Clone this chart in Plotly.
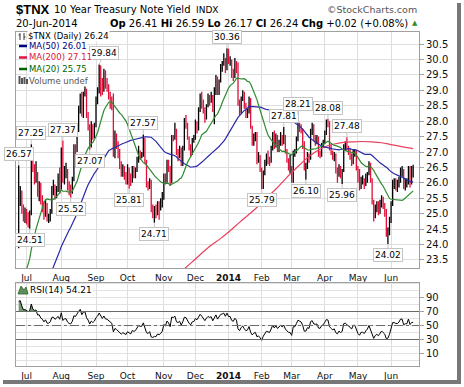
import numpy as np
import pandas as pd
import plotly.graph_objects as go

# ---------------- data ----------------
# closes of the 49 sessions before the first bar (needed for MA/RSI warm-up)
prior_closes = [16.9, 17.2, 16.9, 16.9, 17.0, 17.0, 17.1, 17.0, 17.0, 16.6, 16.7, 16.7,
                16.3, 16.3, 17.4, 17.8, 17.8, 17.6, 18.1, 19.0, 19.2, 19.6, 19.4, 18.9,
                19.5, 19.6, 19.5, 20.4, 20.3, 20.2, 21.6, 21.4, 21.2, 21.3, 21.2, 21.5,
                21.3, 21.2, 21.7, 22.2, 22.0, 22.3, 22.0, 21.9, 22.0, 22.1, 23.5, 24.2, 25.2]

opens = [24.20, 25.50, 25.70, 25.20, 24.85, 24.90, 24.80, 24.70, 25.00, 27.00, 26.45, 26.30, 26.30, 25.80, 25.85, 25.45, 25.30, 24.95, 25.30, 24.85, 24.85, 25.05, 25.80, 25.85, 25.60, 25.80, 26.10, 25.80, 27.05, 26.05,
         26.40, 26.40, 25.95, 25.75, 25.70, 26.10, 27.15, 27.05, 27.70, 28.30, 28.85, 28.20, 28.90, 29.00, 28.20, 27.85, 27.20, 27.80, 27.55, 27.85, 28.60, 28.95, 29.80, 29.35, 29.00, 29.60, 29.15, 29.10, 28.85, 28.65,
         28.50, 26.95, 27.50, 27.30, 27.00, 26.60, 26.30, 26.50, 26.20, 26.10, 26.45, 26.15, 26.05, 26.45, 26.30, 26.40, 26.70, 27.00, 26.90, 26.90, 27.30, 26.70, 26.00, 25.85, 26.05, 25.10, 25.00, 25.10, 25.05, 25.30,
         25.20, 25.30, 25.50, 26.20, 26.05, 26.65, 26.45, 26.00, 27.50, 27.45, 27.70, 27.00, 26.90, 27.10, 26.60, 27.10, 27.95, 27.90, 27.45, 27.15, 26.95, 27.40, 27.45, 27.95, 27.80, 28.35, 28.80, 28.60, 28.40, 28.10,
         28.50, 28.80, 28.70, 28.80, 28.40, 28.90, 29.35, 28.90, 29.30, 29.75, 29.85, 30.00, 29.70, 30.30, 29.95, 29.95, 29.55, 29.45, 29.90, 29.70, 28.60, 28.30, 28.70, 28.90, 28.50, 28.20, 28.30, 28.70, 27.80, 27.30,
         27.50, 27.60, 26.75, 26.85, 26.45, 25.85, 26.30, 26.70, 26.90, 26.80, 26.70, 27.10, 27.60, 27.20, 27.50, 27.10, 27.30, 27.50, 27.30, 27.50, 27.00, 26.70, 26.50, 26.50, 26.05, 27.00, 27.00, 27.40, 27.90, 27.80,
         27.70, 27.30, 26.50, 26.50, 26.90, 26.80, 27.70, 27.85, 27.45, 27.40, 27.45, 26.95, 26.90, 27.20, 27.30, 27.60, 27.95, 27.90, 27.20, 27.00, 26.80, 26.90, 26.40, 26.25, 26.50, 26.30, 26.40, 27.20, 27.25, 27.10,
         27.00, 26.85, 26.65, 27.00, 27.00, 26.50, 26.10, 25.85, 26.10, 26.10, 25.95, 26.15, 26.30, 26.60, 26.10, 25.40, 24.95, 25.20, 25.30, 25.10, 25.30, 25.50, 25.30, 25.10, 24.40, 24.45, 24.75, 25.30, 26.00, 26.00,
         25.90, 25.90, 26.05, 26.40, 26.40, 25.90, 26.00, 26.00, 26.50, 26.00, 26.41]
highs = [26.57, 25.90, 25.75, 25.30, 25.20, 25.15, 25.05, 25.10, 27.25, 27.10, 26.60, 26.70, 26.35, 26.05, 26.00, 25.60, 25.40, 25.45, 25.35, 25.00, 25.15, 25.90, 26.10, 25.95, 25.90, 26.30, 26.50, 27.15, 27.37, 26.55,
         26.65, 26.45, 26.05, 25.95, 26.20, 27.25, 27.25, 27.80, 28.50, 28.90, 28.95, 28.95, 29.30, 29.05, 28.30, 27.90, 28.00, 27.90, 27.95, 28.80, 29.10, 29.84, 29.80, 29.40, 29.70, 29.65, 29.40, 29.20, 28.95, 28.80,
         28.90, 27.70, 27.60, 27.35, 27.10, 26.70, 26.60, 26.55, 26.35, 26.60, 26.50, 26.30, 26.55, 26.55, 26.50, 26.85, 27.20, 27.05, 27.00, 27.57, 27.45, 26.75, 26.05, 26.15, 26.10, 25.30, 25.25, 25.30, 25.40, 25.40,
         25.50, 25.70, 26.30, 26.30, 26.75, 26.75, 26.55, 27.55, 27.55, 27.95, 27.75, 27.10, 27.20, 27.15, 27.20, 28.10, 28.20, 27.95, 27.50, 27.25, 27.45, 27.55, 28.05, 28.00, 28.45, 28.90, 28.95, 28.70, 28.45, 28.55,
         28.90, 28.85, 28.95, 28.85, 29.10, 29.50, 29.45, 29.35, 29.85, 29.95, 30.20, 30.05, 30.36, 30.35, 30.10, 30.00, 29.70, 30.05, 29.95, 29.90, 28.70, 28.80, 29.00, 28.95, 28.60, 28.40, 28.80, 28.75, 27.85, 27.60,
         27.65, 27.65, 27.00, 26.90, 26.50, 26.40, 26.75, 26.95, 27.05, 26.85, 27.20, 27.65, 27.70, 27.60, 27.55, 27.40, 27.65, 27.55, 27.81, 27.55, 27.10, 26.80, 26.90, 26.55, 27.05, 27.10, 27.50, 28.21, 27.95, 27.90,
         27.75, 27.35, 26.65, 27.00, 26.95, 27.75, 27.95, 27.90, 27.55, 27.55, 27.50, 27.05, 27.30, 27.40, 27.70, 28.05, 28.08, 28.00, 27.25, 27.05, 27.00, 26.95, 26.50, 26.60, 26.55, 26.45, 27.25, 27.35, 27.48, 27.20,
         27.10, 26.95, 27.10, 27.10, 27.05, 26.55, 26.45, 26.20, 26.25, 26.15, 26.30, 26.35, 26.70, 26.65, 26.15, 25.45, 25.30, 25.40, 25.40, 25.45, 25.60, 25.55, 25.35, 25.15, 24.55, 24.90, 25.40, 26.10, 26.15, 26.15,
         26.10, 26.20, 26.50, 26.55, 26.45, 26.15, 26.15, 26.55, 26.55, 26.55, 26.59]
lows = [23.88, 25.25, 25.00, 24.75, 24.70, 24.65, 24.55, 24.51, 24.95, 26.35, 25.95, 26.00, 25.55, 25.40, 25.30, 25.05, 24.80, 24.90, 24.75, 24.70, 24.75, 25.00, 25.60, 25.45, 25.50, 25.70, 25.65, 25.80, 26.00, 25.95,
        26.15, 25.75, 25.60, 25.52, 25.65, 26.05, 26.85, 27.00, 27.65, 28.25, 28.15, 28.10, 28.80, 28.10, 27.70, 27.07, 27.15, 27.40, 27.45, 27.80, 28.55, 28.90, 28.80, 28.85, 28.95, 29.05, 28.95, 28.70, 28.40, 28.35,
        26.85, 26.80, 27.10, 26.80, 26.45, 26.20, 26.20, 26.10, 25.95, 25.95, 25.81, 25.90, 26.00, 26.15, 26.15, 26.35, 26.65, 26.75, 26.80, 26.85, 26.60, 25.85, 25.75, 25.80, 25.05, 24.85, 24.71, 24.85, 24.95, 24.80,
        25.10, 25.20, 25.45, 25.95, 26.00, 26.35, 25.90, 26.00, 27.35, 27.40, 26.90, 26.70, 26.80, 26.55, 26.55, 27.05, 27.75, 27.40, 27.05, 26.85, 26.90, 27.30, 27.40, 27.60, 27.70, 28.30, 28.40, 28.25, 27.95, 28.05,
        28.45, 28.50, 28.60, 28.30, 27.90, 28.85, 28.85, 28.85, 29.25, 29.60, 29.80, 29.55, 29.65, 29.85, 29.80, 29.40, 29.30, 29.40, 29.55, 28.50, 28.20, 28.25, 28.65, 28.40, 28.10, 28.10, 28.25, 27.75, 27.20, 27.20,
        27.35, 26.60, 26.65, 26.35, 25.79, 25.80, 26.25, 26.55, 26.60, 26.55, 26.65, 27.05, 27.10, 27.15, 27.00, 27.00, 27.20, 27.20, 27.25, 26.95, 26.65, 26.40, 26.30, 26.00, 26.00, 26.85, 26.95, 27.35, 27.65, 27.60,
        27.10, 26.40, 26.10, 26.45, 26.65, 26.75, 27.55, 27.35, 27.20, 27.25, 26.85, 26.80, 26.85, 27.15, 27.25, 27.55, 27.80, 27.05, 26.90, 26.75, 26.70, 26.30, 26.00, 26.20, 26.15, 25.96, 26.35, 27.05, 27.05, 26.90,
        26.75, 26.55, 26.60, 26.85, 26.40, 26.00, 25.75, 25.80, 25.95, 25.80, 25.90, 26.00, 26.25, 26.00, 25.30, 24.75, 24.85, 25.05, 24.95, 25.00, 25.20, 25.15, 24.90, 24.25, 24.02, 24.30, 24.70, 25.25, 25.80, 25.75,
        25.70, 25.85, 26.00, 26.20, 25.80, 25.75, 25.85, 25.95, 25.85, 25.95, 26.17]
closes = [25.50, 25.75, 25.25, 24.85, 24.90, 24.80, 24.70, 24.95, 27.05, 26.45, 26.30, 26.40, 25.80, 25.85, 25.45, 25.30, 24.95, 25.30, 24.85, 24.85, 25.05, 25.80, 25.85, 25.60, 25.80, 26.10, 25.80, 27.05, 26.05, 26.40,
          26.40, 25.95, 25.75, 25.70, 26.10, 27.15, 27.05, 27.70, 28.30, 28.85, 28.20, 28.90, 29.00, 28.20, 27.85, 27.20, 27.80, 27.55, 27.85, 28.60, 28.95, 29.80, 29.35, 29.00, 29.60, 29.15, 29.10, 28.85, 28.65, 28.50,
          26.95, 27.50, 27.30, 27.00, 26.60, 26.30, 26.50, 26.20, 26.10, 26.45, 26.15, 26.05, 26.45, 26.30, 26.40, 26.70, 27.00, 26.90, 26.90, 27.30, 26.70, 26.00, 25.85, 26.05, 25.10, 25.00, 25.10, 25.05, 25.30, 25.20,
          25.30, 25.50, 26.20, 26.05, 26.65, 26.45, 26.00, 27.50, 27.45, 27.70, 27.00, 26.90, 27.10, 26.60, 27.10, 27.95, 27.90, 27.45, 27.15, 26.95, 27.40, 27.45, 27.95, 27.80, 28.35, 28.80, 28.60, 28.40, 28.10, 28.50,
          28.80, 28.70, 28.80, 28.40, 28.90, 29.35, 28.90, 29.30, 29.75, 29.85, 30.00, 29.70, 30.30, 29.95, 29.95, 29.55, 29.45, 29.90, 29.70, 28.60, 28.30, 28.70, 28.90, 28.50, 28.20, 28.30, 28.70, 27.80, 27.30, 27.50,
          27.60, 26.75, 26.85, 26.45, 25.85, 26.30, 26.70, 26.90, 26.80, 26.70, 27.10, 27.60, 27.20, 27.50, 27.10, 27.30, 27.50, 27.30, 27.50, 27.00, 26.70, 26.50, 26.50, 26.05, 27.00, 27.00, 27.40, 27.90, 27.80, 27.70,
          27.30, 26.50, 26.50, 26.90, 26.80, 27.70, 27.85, 27.45, 27.40, 27.45, 26.95, 26.90, 27.20, 27.30, 27.60, 27.95, 27.90, 27.20, 27.00, 26.80, 26.90, 26.40, 26.25, 26.50, 26.30, 26.40, 27.20, 27.25, 27.10, 27.00,
          26.85, 26.65, 27.00, 27.00, 26.50, 26.10, 25.85, 26.10, 26.10, 25.95, 26.15, 26.30, 26.60, 26.10, 25.40, 24.95, 25.20, 25.30, 25.10, 25.30, 25.50, 25.30, 25.10, 24.40, 24.45, 24.75, 25.30, 26.00, 26.00, 25.90,
          25.90, 26.05, 26.40, 26.40, 25.90, 26.00, 26.00, 26.50, 26.00, 26.22, 26.24]

# 200-day moving average (bar index, value)
ma200_idx = [104, 110, 116, 122, 128, 134, 140, 146, 152, 158, 164, 170, 176, 182, 188, 194, 200, 206, 212, 218, 224, 230, 236, 242, 250]
ma200_val = [23.17, 23.44, 23.72, 23.98, 24.20, 24.45, 24.72, 24.98, 25.25, 25.55, 25.85, 26.18, 26.48, 26.77, 27.00, 27.17, 27.26, 27.31, 27.33, 27.34, 27.33, 27.30, 27.24, 27.18, 27.11]

month_ticks = [5, 27, 49, 69, 92, 112, 133, 154, 173, 194, 215, 236]
month_labels = ["Jul", "Aug", "Sep", "Oct", "Nov", "Dec", "<b>2014</b>", "Feb", "Mar", "Apr", "May", "Jun"]
price_ticks = [23.5, 24.0, 24.5, 25.0, 25.5, 26.0, 26.5, 27.0, 27.5, 28.0, 28.5, 29.0, 29.5, 30.0, 30.5]
rsi_ticks = [10, 30, 50, 70, 90]

peak_idx = [0, 7, 8, 28, 33, 45, 51, 70, 79, 86, 132, 154, 168, 177, 182, 196, 205, 208, 234]
peak_kind = ['hi', 'lo', 'hi', 'hi', 'lo', 'lo', 'hi', 'lo', 'hi', 'lo', 'hi', 'lo', 'hi', 'hi', 'lo', 'hi', 'lo', 'hi', 'lo']

# ---------------- derived ----------------
n = len(closes)
idx = np.arange(n)
allc = np.array(prior_closes + closes, dtype=float)
npre = len(prior_closes)
s = pd.Series(allc)
ma20 = s.rolling(20).mean().values[npre:]
ma50 = s.rolling(50).mean().values[npre:]

d = np.diff(allc)
gain = np.clip(d, 0, None)
loss = np.clip(-d, 0, None)
rsi_all = np.full(len(allc), np.nan)
ag = gain[:14].mean()
al = loss[:14].mean()
rsi_all[14] = 100 - 100 / (1 + ag / al)
for k in range(14, len(d)):
    ag = (ag * 13 + gain[k]) / 14
    al = (al * 13 + loss[k]) / 14
    rsi_all[k + 1] = 100 - 100 / (1 + ag / al)
rsi = rsi_all[npre:]

prevc = allc[npre - 1:-1]
up = np.array(closes) >= prevc

# ---------------- pixel helpers ----------------
W, H = 464, 387
L, R, T, B = 16, 419, 32, 366
def PX(px):
    return (px - L) / (R - L)
def PY(py):
    return (B - py) / (B - T)

FONT = "DejaVu Sans"
RED = "#e0103a"
fig = go.Figure()

o = np.array(opens); h = np.array(highs); lo = np.array(lows); c = np.array(closes)
for mask, col in [(up, "#000000"), (~up, RED)]:
    fig.add_trace(go.Ohlc(x=idx[mask], open=o[mask], high=h[mask], low=lo[mask], close=c[mask],
                          increasing=dict(line=dict(color=col, width=1.3)),
                          decreasing=dict(line=dict(color=col, width=1.3)),
                          tickwidth=0.4, xaxis="x", yaxis="y", hoverinfo="skip"))

fig.add_trace(go.Scatter(x=ma200_idx, y=ma200_val, mode="lines", line=dict(color="#e8405e", width=1.2),
                         line_shape="spline", xaxis="x", yaxis="y", hoverinfo="skip"))
fig.add_trace(go.Scatter(x=idx, y=ma50, mode="lines", line=dict(color="#2828a8", width=1.2),
                         xaxis="x", yaxis="y", hoverinfo="skip"))
fig.add_trace(go.Scatter(x=idx, y=ma20, mode="lines", line=dict(color="#2e8b2e", width=1.2),
                         xaxis="x", yaxis="y", hoverinfo="skip"))

# RSI fills beyond 70 / 30
fig.add_trace(go.Scatter(x=idx, y=np.full(n, 70.0), mode="lines", line=dict(width=0), xaxis="x2", yaxis="y2", hoverinfo="skip"))
fig.add_trace(go.Scatter(x=idx, y=np.maximum(rsi, 70), mode="lines", line=dict(width=0), fill="tonexty",
                         fillcolor="#6f9a6f", xaxis="x2", yaxis="y2", hoverinfo="skip"))
fig.add_trace(go.Scatter(x=idx, y=np.full(n, 30.0), mode="lines", line=dict(width=0), xaxis="x2", yaxis="y2", hoverinfo="skip"))
fig.add_trace(go.Scatter(x=idx, y=np.minimum(rsi, 30), mode="lines", line=dict(width=0), fill="tonexty",
                         fillcolor="#6f9a6f", xaxis="x2", yaxis="y2", hoverinfo="skip"))
fig.add_trace(go.Scatter(x=idx, y=rsi, mode="lines", line=dict(color="#000000", width=1),
                         xaxis="x2", yaxis="y2", hoverinfo="skip"))

shapes = []
# RSI grid + reference lines
for v in range(0, 111, 10):
    shapes.append(dict(type="line", xref="paper", yref="y2", x0=0, x1=1, y0=v, y1=v,
                       line=dict(color="#e2e2e2", width=1), layer="below"))
for v in (70, 30):
    shapes.append(dict(type="line", xref="paper", yref="y2", x0=0, x1=1, y0=v, y1=v,
                       line=dict(color="#6a6a6a", width=1.2)))
shapes.append(dict(type="line", xref="paper", yref="y2", x0=0, x1=1, y0=50, y1=50,
                   line=dict(color="#6a6a6a", width=1, dash="dashdot")))
# drop shadow of the frame
shapes.append(dict(type="rect", xref="paper", yref="paper", x0=PX(457), x1=PX(461), y0=PY(384), y1=PY(3),
                   fillcolor="#777777", line=dict(width=0)))
shapes.append(dict(type="rect", xref="paper", yref="paper", x0=PX(3), x1=PX(461), y0=PY(384), y1=PY(380),
                   fillcolor="#777777", line=dict(width=0)))
# legend icons
for yy, col in [(46, "#000080"), (57.5, "#dc143c"), (69, "#006400")]:
    shapes.append(dict(type="line", xref="paper", yref="paper", x0=PX(19), x1=PX(27), y0=PY(yy), y1=PY(yy),
                       line=dict(color=col, width=2.5)))
# $TNX bar icon
for bx in (20, 24):
    shapes.append(dict(type="line", xref="paper", yref="paper", x0=PX(bx), x1=PX(bx), y0=PY(40), y1=PY(33),
                       line=dict(color="#333333", width=1)))
shapes.append(dict(type="line", xref="paper", yref="paper", x0=PX(18.5), x1=PX(20), y0=PY(35), y1=PY(35), line=dict(color="#333", width=1)))
shapes.append(dict(type="line", xref="paper", yref="paper", x0=PX(24), x1=PX(25.5), y0=PY(37), y1=PY(37), line=dict(color="#333", width=1)))
# volume icon
for bx, top in [(19.5, 76), (22, 78), (24.5, 77), (27, 79)]:
    shapes.append(dict(type="rect", xref="paper", yref="paper", x0=PX(bx - 1), x1=PX(bx + 1), y0=PY(84), y1=PY(top),
                       fillcolor="#555555", line=dict(width=0)))
# RSI icon (mountain)
shapes.append(dict(type="path", xref="paper", yref="paper",
                   path=f"M {PX(18)},{PY(294)} L {PX(21)},{PY(286)} L {PX(24)},{PY(290)} L {PX(26)},{PY(287)} L {PX(28)},{PY(294)} Z",
                   fillcolor="#5a8f5a", line=dict(color="#2f5f2f", width=0.8)))

ann = []
# peak labels
for i, kind in zip(peak_idx, peak_kind):
    v = highs[i] if kind == 'hi' else lows[i]
    ax = 5 if i == 51 else 0
    ann.append(dict(x=i, y=v, xref="x", yref="y", text=f"{v:.2f}", showarrow=True, ax=ax,
                    ay=-11 if kind == 'hi' else 11, arrowhead=0, arrowwidth=1, arrowcolor="#c4c4c4",
                    bgcolor="white", bordercolor="#c4c4c4", borderwidth=1, borderpad=1,
                    font=dict(family=FONT, size=9, color="#000")))

def txt(px, py, text, size=10, color="#000", anchor="left", family=FONT, bg=None):
    d = dict(x=PX(px), y=PY(py), xref="paper", yref="paper", text=text, showarrow=False,
             xanchor=anchor, yanchor="middle", font=dict(family=family, size=size, color=color))
    if bg:
        d["bgcolor"] = bg
        d["borderpad"] = 0
    return d

# legend of the price panel
ann.append(txt(27, 36, "$TNX (Daily) 26.24", 8.5, "#000", bg="white"))
ann.append(txt(28, 46, "MA(50) 26.01", 8.5, "#000080", bg="white"))
ann.append(txt(28, 57.5, "MA(200) 27.11", 8.5, "#dc143c", bg="white"))
ann.append(txt(28, 69, "MA(20) 25.75", 8.5, "#006400", bg="white"))
ann.append(txt(28, 80.5, "Volume undef", 8.5, "#555555", bg="white"))
ann.append(txt(29, 290, "RSI(14) 54.21", 9, "#000", bg="white"))

# header
ann.append(txt(14, 9.5, "<b>$TNX</b>", 13, "#000", family="Liberation Sans"))
ann.append(txt(52, 9.5, "10 Year Treasury Note Yield", 10, "#000"))
ann.append(txt(194, 10, "INDX", 9, "#000"))
ann.append(txt(419, 9.5, "\u00a9StockCharts.com", 9.5, "#555555", anchor="right"))
ann.append(txt(14, 23.5, "20-Jun-2014", 10, "#000"))
ann.append(txt(410, 23.5, "<b>Op</b> 26.41 <b>Hi</b> 26.59 <b>Lo</b> 26.17 <b>Cl</b> 26.24 <b>Chg</b> +0.02 (+0.08%)",
               10, "#000", anchor="right"))
ann.append(txt(414.5, 23, "\u25b2", 7, "#2e8b2e", anchor="center"))

xcommon = dict(range=[-1.7, 253.7], tickvals=month_ticks, ticktext=month_labels, showgrid=True,
               gridcolor="#dedede", gridwidth=1, showline=True, mirror=True, linecolor="#a0a0a0",
               ticks="", zeroline=False, tickfont=dict(family=FONT, size=9, color="#111"),
               fixedrange=True, automargin=False)
ycommon = dict(side="right", showgrid=True, gridcolor="#dedede", showline=True, mirror=True,
               linecolor="#a0a0a0", ticks="outside", ticklen=4, tickcolor="#a0a0a0", zeroline=False,
               tickfont=dict(family=FONT, size=10, color="#111"), fixedrange=True, automargin=False)

fig.update_layout(
    width=W, height=H, margin=dict(l=L, r=W - R, t=T, b=H - B, pad=0, autoexpand=False),
    paper_bgcolor="white", plot_bgcolor="white", showlegend=False,
    xaxis=dict(**xcommon, domain=[0, 1], anchor="y", rangeslider=dict(visible=False), ticklabelstandoff=1),
    xaxis2=dict(**xcommon, domain=[0, 1], anchor="y2", matches="x", ticklabelstandoff=1),
    yaxis=dict(**ycommon, domain=[PY(268), 1], range=[23.24, 30.89], tickvals=price_ticks,
               ticktext=[f"{v:.1f}" for v in price_ticks]),
    yaxis2=dict(**ycommon, domain=[0, PY(283)], range=[-7.8, 110.7], tickvals=rsi_ticks,
                ticktext=[str(v) for v in rsi_ticks]),
    shapes=shapes, annotations=ann,
)
fig.layout.yaxis2.showgrid = False

fig.write_html("out.html", config={"displayModeBar": False},
               post_script="document.body.style.margin='0px';")
